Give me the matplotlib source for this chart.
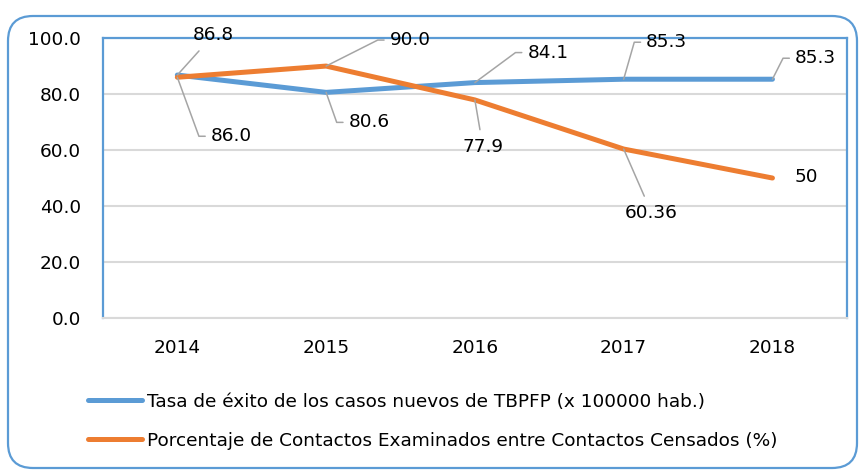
import math
import matplotlib
matplotlib.use("Agg")
import matplotlib.pyplot as plt
from matplotlib.patches import FancyBboxPatch

years = ["2014", "2015", "2016", "2017", "2018"]
tasa_exito = [86.8, 80.6, 84.1, 85.3, 85.3]
pct_contactos = [86.0, 90.0, 77.9, 60.36, 50]
tasa_labels = ["86.8", "80.6", "84.1", "85.3", "85.3"]
contactos_labels = ["86.0", "90.0", "77.9", "60.36", "50"]
legend_names = ["Tasa de éxito de los casos nuevos de TBPFP (x 100000 hab.)",
                "Porcentaje de Contactos Examinados entre Contactos Censados (%)"]

BLUE = "#5B9BD5"
ORANGE = "#ED7D31"
GRID = "#D9D9D9"
FS = 13.3

plt.rcParams['font.family'] = ['DejaVu Sans']

fig = plt.figure(figsize=(8.65, 4.76), dpi=100)
ax = fig.add_axes([0.119, 0.332, 0.860, 0.588])

x = list(range(len(years)))
l1, = ax.plot(x, tasa_exito, color=BLUE, lw=3.6, solid_capstyle='round')
l2, = ax.plot(x, pct_contactos, color=ORANGE, lw=3.6, solid_capstyle='round')

ax.set_xlim(-0.5, len(years) - 0.5)
ax.set_ylim(0, 100)
ax.set_yticks([0, 20, 40, 60, 80, 100])
ax.set_yticklabels(["%.1f" % v for v in [0, 20, 40, 60, 80, 100]], fontsize=FS)
ax.set_xticks(x)
ax.set_xticklabels(years, fontsize=FS)
ax.tick_params(axis='y', length=0, pad=16)
ax.tick_params(axis='x', length=0, pad=15)
ax.grid(axis='y', color=GRID, lw=1.5)
ax.set_axisbelow(True)
for s in ['left', 'top', 'right']:
    ax.spines[s].set_color(BLUE)
    ax.spines[s].set_linewidth(1.6)
ax.spines['bottom'].set_color(GRID)
ax.spines['bottom'].set_linewidth(1.5)

# label offsets in pixels (dx, dy up, leader kind)
tasa_off = [(36, 40, 0), (43, -30, -1), (73, 30, -1), (43, 37, -1), (43, 21, -1)]
cont_off = [(54, -59, -1), (84, 26, -1), (8, -47, 0), (28, -64, 0), (34, 1, None)]


def put_label(xi, yi, txt, off):
    dx, dy, side = off
    kw = dict(xytext=(dx, dy), textcoords='offset pixels', ha='center', va='center',
              fontsize=FS)
    if side is None:
        ax.annotate(txt, (xi, yi), **kw)
        return
    if side == 0:
        ax.annotate(txt, (xi, yi), arrowprops=dict(arrowstyle='-', color='#A5A5A5', lw=1.1,
                                                   shrinkA=4, shrinkB=0), **kw)
        return
    # elbow leader: short horizontal tick by the text's left edge, then to point
    half = 4.6 * len(txt) + 4
    ang = math.degrees(math.atan2(dy, dx - half - 10))
    ax.annotate(txt, (xi, yi), arrowprops=dict(arrowstyle='-', color='#A5A5A5', lw=1.1,
                                               shrinkA=2, shrinkB=0, relpos=(0, 0.5),
                                               connectionstyle="angle,angleA=180,angleB=%f,rad=0" % ang),
                **kw)


for i in x:
    put_label(i, tasa_exito[i], tasa_labels[i], tasa_off[i])
    put_label(i, pct_contactos[i], contactos_labels[i], cont_off[i])

fig.legend([l1, l2], legend_names, loc='upper left', bbox_to_anchor=(0.102, 0.175),
           frameon=False, fontsize=FS, handlelength=2.9, handletextpad=0.3,
           labelspacing=1.15, borderpad=0, borderaxespad=0)

box = FancyBboxPatch((0.08, 0.08), 8.49, 4.52, boxstyle="round,pad=0,rounding_size=0.25",
                     transform=fig.dpi_scale_trans, fill=False, edgecolor=BLUE, lw=1.6)
fig.patches.append(box)

fig.savefig("out.png", dpi=100)
